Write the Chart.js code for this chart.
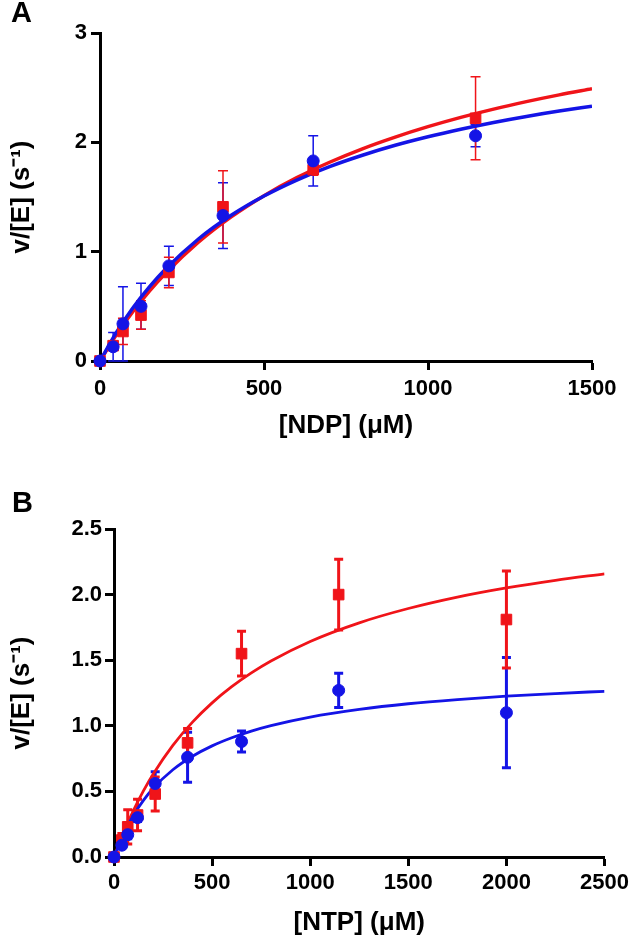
<!DOCTYPE html>
<html>
<head>
<meta charset="utf-8">
<script src="https://cdn.jsdelivr.net/npm/chart.js@4.4.1/dist/chart.umd.min.js"></script>
<style>
  body { margin: 0; background: #fff; }
  #wrap { position: relative; width: 633px; height: 939px; }
  canvas { position: absolute; left: 0; }
  .panel { position: absolute; font: bold 29px 'Liberation Sans', Arial, sans-serif; line-height: 29px; }
</style>
</head>
<body>
<div id="wrap">
  <canvas id="chartA" width="633" height="460" style="top:0"></canvas>
  <canvas id="chartB" width="633" height="479" style="top:460px"></canvas>
  <div class="panel" style="left:11px;top:-2px">A</div>
  <div class="panel" style="left:12px;top:488px">B</div>
</div>
<script>
// panel A - NDP
const concA = [0, 40, 70, 125, 210, 375, 650, 1145]
const redA = [0, 0.14, 0.27, 0.42, 0.81, 1.41, 1.75, 2.22]
const redErrA = [0, 0.04, 0.12, 0.13, 0.14, 0.33, 0.05, 0.38]
const blueA = [0, 0.13, 0.34, 0.50, 0.87, 1.33, 1.83, 2.06]
const blueErrA = [0, 0.13, 0.34, 0.21, 0.18, 0.30, 0.23, 0.10]

// fitted curves
const fitXA = [0, 50, 100, 150, 200, 300, 400, 500, 600, 700, 800, 900, 1000, 1100, 1200, 1300, 1400, 1500]
const redFitA = [0, 0.24, 0.45, 0.637, 0.803, 1.086, 1.318, 1.512, 1.677, 1.818, 1.941, 2.048, 2.143, 2.228, 2.304, 2.372, 2.434, 2.49]
const blueFitA = [0, 0.262, 0.485, 0.676, 0.842, 1.116, 1.333, 1.509, 1.655, 1.778, 1.882, 1.973, 2.051, 2.12, 2.182, 2.237, 2.286, 2.33]

// panel B - NTP
const concB = [0, 40, 70, 120, 210, 375, 650, 1145, 2000]
const redB = [0, 0.13, 0.23, 0.32, 0.48, 0.87, 1.55, 2.00, 1.81]
const redErrB = [0, 0.05, 0.13, 0.12, 0.13, 0.11, 0.17, 0.27, 0.37]
const blueB = [0, 0.09, 0.17, 0.30, 0.56, 0.76, 0.88, 1.27, 1.10]
const blueErrB = [0, 0.02, 0.03, 0.03, 0.09, 0.19, 0.08, 0.13, 0.42]

const fitXB = [0, 50, 100, 150, 200, 300, 400, 500, 600, 700, 800, 1000, 1250, 1500, 1750, 2000, 2250, 2500]
const redFitB = [0, 0.192, 0.358, 0.504, 0.633, 0.851, 1.028, 1.175, 1.298, 1.403, 1.494, 1.643, 1.785, 1.894, 1.981, 2.051, 2.109, 2.158]
const blueFitB = [0, 0.18, 0.32, 0.432, 0.524, 0.665, 0.768, 0.847, 0.909, 0.96, 1.002, 1.067, 1.125, 1.168, 1.2, 1.226, 1.246, 1.263]

const RED = '#f01419'
const BLUE = '#1414e6'
const FAMILY = "'Liberation Sans', Arial, sans-serif"

const pts = (xs, ys) => xs.map((x, i) => ({ x, y: ys[i] }))

const errorBars = {
	id: 'errorBars',
	beforeDatasetsDraw(chart, args, opts) {
		const ctx = chart.ctx
		const xs = chart.scales.x
		const ys = chart.scales.y
		chart.data.datasets.forEach(ds => {
			if (!ds.errors) return
			ctx.save()
			ctx.strokeStyle = ds.borderColor
			ctx.lineWidth = opts.width
			ds.data.forEach((p, j) => {
				const err = ds.errors[j]
				if (!err) return
				const x = xs.getPixelForValue(p.x)
				const top = ys.getPixelForValue(p.y + err)
				const bot = ys.getPixelForValue(Math.max(p.y - err, 0))
				ctx.beginPath()
				ctx.moveTo(x, top)
				ctx.lineTo(x, bot)
				ctx.moveTo(x - opts.cap, top)
				ctx.lineTo(x + opts.cap, top)
				ctx.moveTo(x - opts.cap, bot)
				ctx.lineTo(x + opts.cap, bot)
				ctx.stroke()
			})
			ctx.restore()
		})
	}
}

const axis = (c) => ({
	type: 'linear',
	min: c.min,
	max: c.max,
	afterFit: s => { if (c.height) s.height = c.height; if (c.width) s.width = c.width },
	border: { display: true, color: '#000', width: 3 },
	grid: { display: true, drawOnChartArea: false, drawTicks: true, tickLength: 9, tickWidth: 3, tickColor: '#000' },
	ticks: {
		stepSize: c.step,
		color: '#000',
		padding: c.tickPad,
		maxRotation: 0,
		font: { family: FAMILY, size: 22, weight: 'bold' },
		callback: c.fmt || (v => v)
	},
	title: {
		display: true,
		text: c.title,
		color: '#000',
		font: { family: FAMILY, size: 26, weight: 'bold' },
		padding: c.titlePad
	}
})

const makeChart = (el, c) => new Chart(el, {
	type: 'scatter',
	data: {
		datasets: [
			{ data: pts(c.conc, c.blue), errors: c.blueErr, backgroundColor: BLUE, borderColor: BLUE, pointStyle: 'circle', pointRadius: 6, clip: false, order: 1 },
			{ data: pts(c.conc, c.red), errors: c.redErr, backgroundColor: RED, borderColor: RED, pointStyle: 'rect', pointRadius: 7.5, clip: false, order: 2 },
			{ data: pts(c.fitX, c.blueFit), showLine: true, borderColor: BLUE, borderWidth: c.lineW, pointRadius: 0, cubicInterpolationMode: 'monotone', order: 3 },
			{ data: pts(c.fitX, c.redFit), showLine: true, borderColor: RED, borderWidth: c.lineW, pointRadius: 0, cubicInterpolationMode: 'monotone', order: 4 }
		]
	},
	options: {
		responsive: false,
		animation: false,
		layout: { padding: c.padding },
		plugins: {
			legend: { display: false },
			tooltip: { enabled: false },
			errorBars: { width: c.errW, cap: c.cap }
		},
		scales: { x: axis(c.x), y: axis(c.y) }
	},
	plugins: [errorBars]
})

makeChart(document.getElementById('chartA'), {
	conc: concA, red: redA, redErr: redErrA, blue: blueA, blueErr: blueErrA,
	fitX: fitXA, redFit: redFitA, blueFit: blueFitA,
	lineW: 3.5, errW: 1.5, cap: 5,
	padding: { top: 33, right: 41, left: 0, bottom: 0 },
	x: { min: 0, max: 1500, step: 500, height: 99, tickPad: 6, title: '[NDP] (μM)', titlePad: { top: 0, bottom: 19 } },
	y: { min: 0, max: 3, step: 1, width: 100, tickPad: 4, title: 'v/[E] (s⁻¹)', titlePad: { top: 6, bottom: 0 } }
})

makeChart(document.getElementById('chartB'), {
	conc: concB, red: redB, redErr: redErrB, blue: blueB, blueErr: blueErrB,
	fitX: fitXB, redFit: redFitB, blueFit: blueFitB,
	lineW: 2.8, errW: 3, cap: 4.5,
	padding: { top: 69, right: 27, left: 0, bottom: 0 },
	x: { min: 0, max: 2500, step: 500, height: 82, tickPad: 4, title: '[NTP] (μM)', titlePad: { top: 0, bottom: 1 } },
	y: { min: 0, max: 2.5, step: 0.5, width: 114, tickPad: 3, title: 'v/[E] (s⁻¹)', titlePad: { top: 6, bottom: 0 }, fmt: v => v.toFixed(1) }
})
</script>
</body>
</html>
